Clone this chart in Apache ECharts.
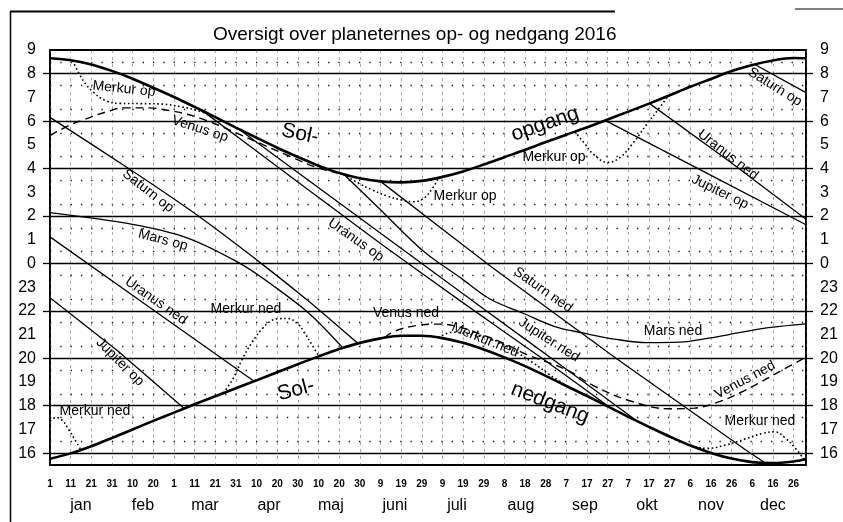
<!DOCTYPE html>
<html><head><meta charset="utf-8">
<script src="https://cdn.jsdelivr.net/npm/echarts@6/dist/echarts.min.js"></script>
<style>html,body{margin:0;padding:0;background:#fff}#c{width:843px;height:522px}</style>
</head><body><div id="c"></div>
<script>
// ---------- DATA (x = day of year 2016, y = clock hour CET) ----------
const sunDays = [1,11,21,31,41,51,61,71,81,91,101,111,121,131,141,151,161,171,181,191,201,211,221,231,241,251,261,271,281,291,301,311,321,331,341,351,361,367];
const sunRise = [8.65,8.57,8.39,8.12,7.79,7.41,7.02,6.60,6.17,5.73,5.30,4.88,4.49,4.12,3.81,3.59,3.46,3.42,3.48,3.65,3.88,4.17,4.48,4.79,5.12,5.43,5.74,6.07,6.40,6.74,7.09,7.45,7.78,8.11,8.37,8.56,8.66,8.65];
const sunSet  = [15.76,15.99,16.29,16.64,17.00,17.36,17.71,18.06,18.40,18.74,19.07,19.41,19.75,20.08,20.39,20.65,20.84,20.95,20.95,20.85,20.65,20.37,20.04,19.67,19.26,18.83,18.41,17.97,17.53,17.11,16.70,16.32,16.01,15.77,15.62,15.58,15.65,15.74];

const merkurNedJan = [[1,17.35],[4,17.5],[7,17.38],[10,17.0],[13,16.58],[16,16.13]];
const merkurOpJan  = [[12,8.55],[17,7.72],[22,7.22],[28,6.86],[35,6.75],[45,6.74],[55,6.72],[65,6.6],[73,6.43],[80,6.22]];
const venusOp      = [[1,5.39],[10,5.81],[16,6.02],[30,6.44],[37,6.56],[49,6.56],[57,6.47],[67,6.3],[77,6.02],[90,5.55],[103,5.05],[117,4.52],[130,4.05],[142,3.79]];
const saturnOpJan  = [[1,6.16],[40,3.95],[72,2.05],[104,23.95],[127,22.35],[150,20.63]];
const marsOp       = [[1,2.14],[41,1.65],[67,1.09],[93,0.0],[110,23.0],[127,21.85],[143,20.42]];
const uranusNedJan = [[1,1.12],[50,22.1],[100,19.02]];
const jupiterOpJan = [[1,22.55],[34,20.3],[66,17.88]];
const merkurNedApr = [[85,18.53],[90,19.2],[94,19.95],[99,20.7],[104,21.27],[108,21.58],[112,21.67],[116,21.68],[121,21.45],[124,21.1],[128,20.55],[131,20.1]];
const jupiterNed   = [[76,6.36],[120,3.5],[161,0.84],[200,22.4],[240,19.95],[272,17.93]];
const uranusOp     = [[92,5.69],[150,1.98],[211,22.08],[250,19.6],[286,17.3]];
const merkurOpJun  = [[143,3.76],[150,3.4],[157,3.1],[164,2.85],[171,2.68],[177,2.6],[182,2.75],[186,3.15],[189,3.58]];
const marsNed      = [[143,3.78],[160,2.35],[182,0.5],[200,23.38],[214,22.5],[230,21.9],[245,21.35],[260,21.05],[275,20.8],[290,20.66],[306,20.68],[320,20.85],[336,21.1],[350,21.3],[367,21.45]];
const saturnNed    = [[161,3.46],[214,23.9],[257,21.15],[275,20.0],[336,16.25],[347,15.6]];
const venusNed     = [[163,20.88],[168,21.15],[180,21.4],[190,21.44],[200,21.3],[210,21.0],[220,20.66],[232,20.15],[251,19.52],[264,18.85],[282,18.2],[301,17.87],[313,17.9],[324,18.14],[337,18.63],[359,19.67],[367,20.05]];
const merkurNedAug = [[189,20.87],[196,21.1],[205,21.0],[215,20.8],[225,20.35],[235,19.8],[243,19.3],[250,18.9]];
const merkurOpSep  = [[255,5.56],[260,5.04],[264,4.61],[271,4.26],[277,4.47],[283,5.04],[290,5.88],[295,6.44],[300,7.03]];
const jupiterOpOkt = [[270,6.02],[318,3.85],[367,1.63]];
const uranusNedOkt = [[291,6.76],[330,4.3],[367,1.86]];
const merkurNedNov = [[300,16.72],[306,16.48],[313,16.28],[319,16.2],[328,16.34],[338,16.61],[346,16.83],[352,16.9],[357,16.63],[362,16.19],[366,15.74]];
const saturnOpDec  = [[342,8.4],[367,7.2]];

const xTickLabels = ['1','11','21','31','10','20','1','11','21','31','10','20','30','10','20','30','9','19','29','9','19','29','8','18','28','7','17','27','7','17','27','6','16','26','6','16','26'];
const monthNames = ['jan','feb','mar','apr','maj','juni','juli','aug','sep','okt','nov','dec'];
const monthMidDays = [16,46,76,107,137,168,198,229,260,290,321,351];
const majorHours = [8,6,4,2,0,22,20,18,16];

// ---------- helpers ----------
function T(h){ return h >= 15 ? 33 - h : 9 - h; }   // chart runs 9 -> 0 -> 16 from top to bottom
function pts(a){ return a.map(p => [p[0], T(p[1])]); }
function hourLabel(v){ if (Math.abs(v - Math.round(v)) > 1e-6) return ''; return String(((9 - Math.round(v)) % 24 + 24) % 24); }
const FONT = '"Liberation Sans", Arial, Helvetica, sans-serif';

const chart = echarts.init(document.getElementById('c'));

function line(data, kind, smooth){
  const ls = {color:'#000', width:1.3, type:'solid'};
  if (kind === 'sun') { ls.width = 2.6; }
  if (kind === 'venus') { ls.type = [8,5]; ls.width = 1.4; }
  if (kind === 'merkur') { ls.type = [1.6,2.6]; ls.width = 1.6; }
  return {type:'line', data: pts(data), showSymbol:false, symbol:'none', smooth: smooth || false,
          lineStyle: ls, silent:true, z:3};
}

const labels = [
  ['Merkur op',124,89,6],['Venus op',200,129,18],['Saturn op',148,191,38],['Mars op',163,240,15],
  ['Uranus ned',156,301,35],['Jupiter op',120,362,45],['Merkur ned',95,411,0],['Merkur ned',246,309,0],
  ['Uranus op',356,240,35],['Merkur op',465,196,0],['Venus ned',406,313,0],['Merkur ned',485,340,22],
  ['Saturn ned',543,290,35],['Jupiter ned',549,340,33],['Merkur op',554,157,0],['Uranus ned',728,155,38],
  ['Jupiter op',720,192,26],['Saturn op',775,87,32],['Mars ned',673,331,0],['Venus ned',745,380,-28],
  ['Merkur ned',760,421,0]
];
const sunLabels = [['Sol-',300,134,12],['opgang',545,124,-19],['Sol-',296,390,-15],['nedgang',550,403,21]];

const graphic = [];
labels.forEach(l => graphic.push({type:'text', x:l[1], y:l[2], rotation:-l[3]*Math.PI/180, z:10,
  style:{text:l[0], font:'14px '+FONT, fill:'#000', align:'center', verticalAlign:'middle'}}));
sunLabels.forEach(l => graphic.push({type:'text', x:l[1], y:l[2], rotation:-l[3]*Math.PI/180, z:10,
  style:{text:l[0], font:'21px '+FONT, fill:'#000', align:'center', verticalAlign:'middle'}}));
graphic.push({type:'line', shape:{x1:10.5,y1:11,x2:10.5,y2:522}, style:{stroke:'#000', lineWidth:1.5}});
graphic.push({type:'line', shape:{x1:10,y1:11.5,x2:615,y2:11.5}, style:{stroke:'#000', lineWidth:2}});
graphic.push({type:'line', shape:{x1:795,y1:9,x2:843,y2:9}, style:{stroke:'#000', lineWidth:1.2}});

const yCommon = {
  type:'value', min:0, max:17.5, interval:1, inverse:true,
  axisLine:{show:false},
  axisTick:{show:true, length:7, customValues: majorHours.map(T), lineStyle:{color:'#000', width:1.3}},
  axisLabel:{formatter: hourLabel, fontSize:16, color:'#000', fontFamily:FONT},
};

const option = {
  animation:false,
  backgroundColor:'#fff',
  title:{text:'Oversigt over planeternes op- og nedgang 2016', left:208, top:20,
         textStyle:{fontSize:19, fontWeight:'normal', color:'#000', fontFamily:FONT}},
  grid:{left:50, right:37, top:50, bottom:57, show:true, borderColor:'#000', borderWidth:2, backgroundColor:'transparent'},
  xAxis:[
    {type:'value', min:1, max:367, interval:10, position:'bottom',
     axisLine:{show:false}, axisTick:{show:false},
     axisLabel:{margin:14, fontSize:10, fontWeight:'bold', color:'#000', fontFamily:FONT,
       formatter: v => { const i = Math.round((v-1)/10); return (Math.abs(v-1-10*i) < 1e-6 && i < xTickLabels.length) ? xTickLabels[i] : ''; }},
     splitLine:{show:true, lineStyle:{color:'#555', width:0.7, type:[3,4], opacity:0.7}}},
    {type:'value', min:1, max:367, position:'bottom', gridIndex:0,
     axisLine:{show:false}, axisTick:{show:false}, splitLine:{show:false},
     axisLabel:{margin:33, fontSize:16, color:'#000', fontFamily:FONT, customValues: monthMidDays,
       formatter: v => { const i = monthMidDays.indexOf(Math.round(v)); return i >= 0 ? monthNames[i] : ''; }}}
  ],
  yAxis:[
    Object.assign({}, yCommon, {position:'left', axisLabel:Object.assign({}, yCommon.axisLabel, {margin:14}),
      splitLine:{show:true, lineStyle:{color:'#111', width:1, type:[2.5,5.5]}},
      minorTick:{show:false, splitNumber:2},
      minorSplitLine:{show:true, lineStyle:{color:'#111', width:1.3, type:[1.3,9]}}}),
    Object.assign({}, yCommon, {position:'right', axisLabel:Object.assign({}, yCommon.axisLabel, {margin:14}),
      splitLine:{show:false}})
  ],
  graphic: graphic,
  series:[
    {type:'line', data:[], silent:true, z:2,
     markLine:{silent:true, symbol:['none','none'], label:{show:false}, animation:false,
       lineStyle:{color:'#000', width:1.4, type:'solid'},
       data: majorHours.map(h => ({yAxis: T(h)}))}},
    line(sunDays.map((d,i)=>[d,sunRise[i]]), 'sun', 0.3),
    line(sunDays.map((d,i)=>[d,sunSet[i]]), 'sun', 0.3),
    line(merkurNedJan,'merkur',0.4), line(merkurOpJan,'merkur',0.4), line(venusOp,'venus',0.4),
    line(saturnOpJan,'solid',0.2), line(marsOp,'solid',0.3), line(uranusNedJan,'solid'), line(jupiterOpJan,'solid'),
    line(merkurNedApr,'merkur',0.4), line(jupiterNed,'solid',0.2), line(uranusOp,'solid',0.2),
    line(merkurOpJun,'merkur',0.4), line(marsNed,'solid',0.35), line(saturnNed,'solid',0.2),
    line(venusNed,'venus',0.4), line(merkurNedAug,'merkur',0.4), line(merkurOpSep,'merkur',0.4),
    line(jupiterOpOkt,'solid'), line(uranusNedOkt,'solid'), line(merkurNedNov,'merkur',0.4), line(saturnOpDec,'solid')
  ]
};
chart.setOption(option);
</script></body></html>
